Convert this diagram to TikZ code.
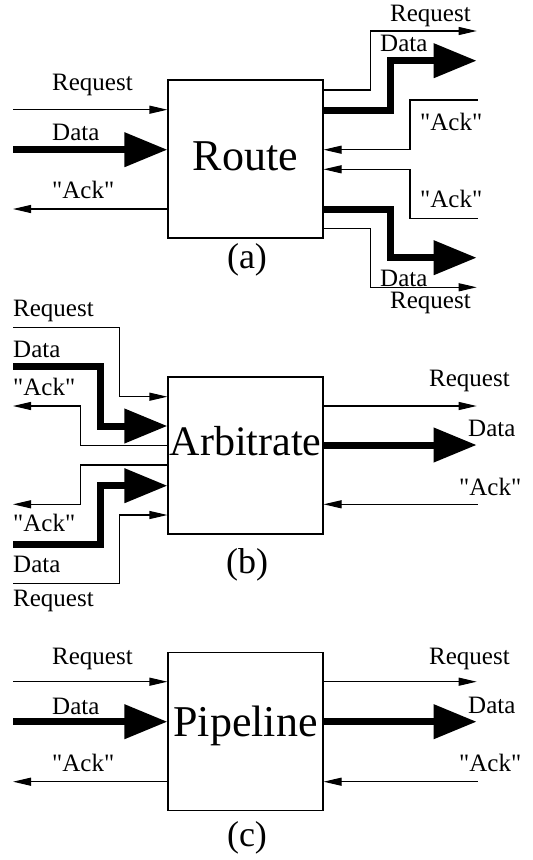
\documentclass[tikz,border=0pt]{standalone}
\usepackage{fontspec}
\setmainfont{Liberation Serif}
\usetikzlibrary{arrows.meta}

\newcommand{\ack}{\textquotedbl Ack\textquotedbl}

\tikzset{
  unit/.style={draw, line width=1.1pt, minimum width=155pt, minimum height=158pt, inner sep=0pt},
  unittext/.style={inner sep=0pt, anchor=base, font=\fontsize{44}{50}\selectfont},
  caption/.style={inner sep=0pt, font=\fontsize{36}{42}\selectfont},
  lbl/.style={inner sep=0pt, anchor=base west, font=\fontsize{25}{30}\selectfont},
  sig/.style={line width=1.1pt, -{Triangle[length=18pt,width=8pt]}},
  bus/.style={line width=7pt, line join=miter, -{Triangle[length=43pt,width=33pt]}}
}

\begin{document}
\begin{tikzpicture}[x=1pt,y=-1pt]
\useasboundingbox (0,0) rectangle (533,860);

% ---------------- (a) Route ----------------
\node[unit] (boxa) at (245.5,159) {};
\node[unittext] (ta) at (245.5,170) {Route};
\node[caption] (capa) at (247,260) {(a)};

\coordinate (aInRq) at (13,109.7);
\coordinate (aInDa) at (13,149.7);
\coordinate (aOutAk) at (13,209);
\draw[sig] (aInRq) -- (aInRq -| boxa.west);
\draw[bus] (aInDa) -- (aInDa -| boxa.west);
\draw[sig] (boxa.west |- aOutAk) -- (aOutAk);
\node[lbl] (la1) at (52,90.5) {Request};
\node[lbl] (la2) at (52,140) {Data};
\node[lbl] (la3) at (52,198.5) {\ack};

\coordinate (aRqUp) at (476.7,31);
\coordinate (aDaUp) at (476.7,60.7);
\coordinate (aAkUp) at (477.7,100);
\coordinate (aAkDn) at (477.7,218.7);
\coordinate (aDaDn) at (476.7,257.7);
\coordinate (aRqDn) at (476.7,287.3);
\draw[sig] (boxa.east |- 0,90) -- (370.7,90) |- (aRqUp);
\draw[bus] (boxa.east |- 0,110) -- (390,110) |- (aDaUp);
\draw[sig] (aAkUp) -- (410,100) |- (boxa.east |- 0,149.7);
\draw[sig] (aAkDn) -- (410,218.7) |- (boxa.east |- 0,169.3);
\draw[bus] (boxa.east |- 0,209) -- (390,209) |- (aDaDn);
\draw[sig] (boxa.east |- 0,228.3) -- (370.7,228.3) |- (aRqDn);
\node[lbl] (la4) at (390,21) {Request};
\node[lbl] (la5) at (380,51) {Data};
\node[lbl] (la6) at (420,130) {\ack};
\node[lbl] (la7) at (420,207) {\ack};
\node[lbl] (la8) at (380,286) {Data};
\node[lbl] (la9) at (390,308.5) {Request};

% ---------------- (b) Arbitrate ----------------
\node[unit, minimum height=157pt] (boxb) at (245.5,455.5) {};
\node[unittext, font=\fontsize{42}{48}\selectfont] (tb) at (245.5,455) {Arbitrate};
\node[caption] (capb) at (247,565) {(b)};

\coordinate (bInRq1) at (13,327.3);
\coordinate (bInDa1) at (13,366.7);
\coordinate (bOutAk1) at (13,406);
\coordinate (bOutAk2) at (13,504.3);
\coordinate (bInDa2) at (13,544.3);
\coordinate (bInRq2) at (13,583.3);
\draw[sig] (bInRq1) -- (119.3,327.3) |- (boxb.west |- 0,396.7);
\draw[bus] (bInDa1) -- (100,366.7) |- (boxb.west |- 0,426);
\draw[sig] (boxb.west |- 0,445.7) -- (80.7,445.7) |- (bOutAk1);
\draw[sig] (boxb.west |- 0,465) -- (80.7,465) |- (bOutAk2);
\draw[bus] (bInDa2) -- (100,544.3) |- (boxb.west |- 0,485.7);
\draw[sig] (bInRq2) -- (119.3,583.3) |- (boxb.west |- 0,515);
\node[lbl] (lb1) at (13,316) {Request};
\node[lbl] (lb2) at (13,357.5) {Data};
\node[lbl] (lb3) at (13,395.5) {\ack};
\node[lbl] (lb4) at (13,531.5) {\ack};
\node[lbl] (lb5) at (13,572) {Data};
\node[lbl] (lb6) at (13,606.5) {Request};

\coordinate (bOutRq) at (476.7,406);
\coordinate (bOutDa) at (476.7,445);
\coordinate (bInAk) at (477.7,504.3);
\draw[sig] (boxb.east |- bOutRq) -- (bOutRq);
\draw[bus] (boxb.east |- bOutDa) -- (bOutDa);
\draw[sig] (bInAk) -- (bInAk -| boxb.east);
\node[lbl] (lb7) at (429,386) {Request};
\node[lbl] (lb8) at (468,436.5) {Data};
\node[lbl] (lb9) at (459,495) {\ack};

% ---------------- (c) Pipeline ----------------
\node[unit] (boxc) at (245.5,731.7) {};
\node[unittext] (tc) at (245.5,736) {Pipeline};
\node[caption] (capc) at (247,838) {(c)};

\coordinate (cInRq) at (13,681.7);
\coordinate (cInDa) at (13,721.7);
\coordinate (cOutAk) at (13,781.7);
\coordinate (cOutRq) at (476.7,681.7);
\coordinate (cOutDa) at (476.7,721.7);
\coordinate (cInAk) at (477.7,781.7);
\draw[sig] (cInRq) -- (cInRq -| boxc.west);
\draw[bus] (cInDa) -- (cInDa -| boxc.west);
\draw[sig] (boxc.west |- cOutAk) -- (cOutAk);
\draw[sig] (boxc.east |- cOutRq) -- (cOutRq);
\draw[bus] (boxc.east |- cOutDa) -- (cOutDa);
\draw[sig] (cInAk) -- (cInAk -| boxc.east);
\node[lbl] (lc1) at (52,664) {Request};
\node[lbl] (lc2) at (52,714) {Data};
\node[lbl] (lc3) at (52,771.5) {\ack};
\node[lbl] (lc4) at (429,664) {Request};
\node[lbl] (lc5) at (468,713.5) {Data};
\node[lbl] (lc6) at (459,771.5) {\ack};
\end{tikzpicture}
\end{document}
